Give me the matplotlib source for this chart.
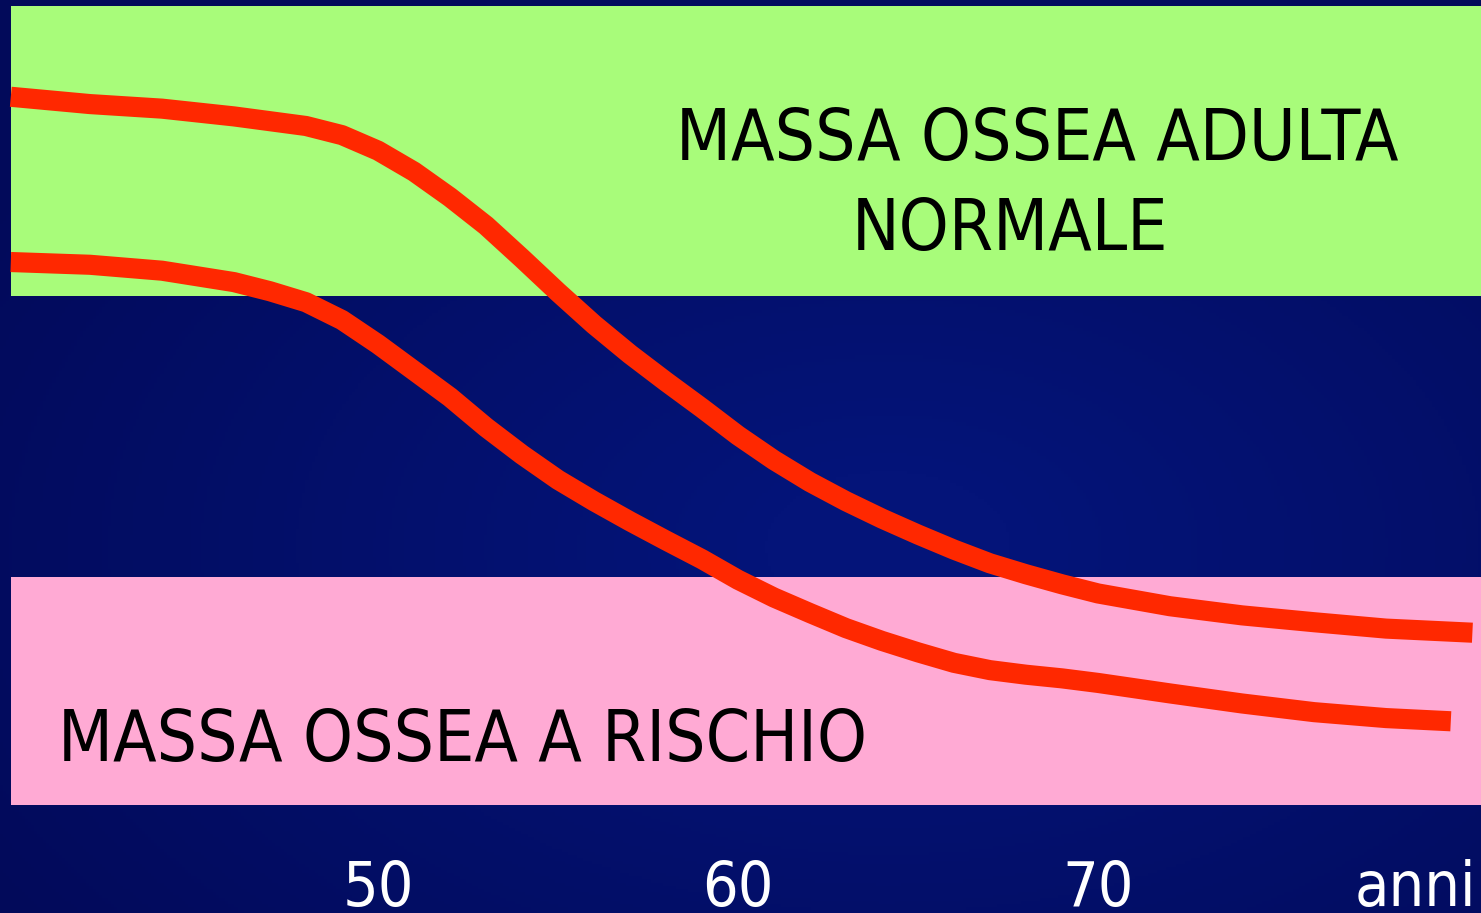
import numpy as np
import matplotlib
matplotlib.use("Agg")
import matplotlib.pyplot as plt
from matplotlib.colors import LinearSegmentedColormap

# Age (anni) and bone mass (arbitrary units) for the two trajectories
age_high = [39.8, 42, 44, 46, 48, 49, 50, 51, 52, 53, 54, 55, 56, 57, 58, 59, 60,
            61, 62, 63, 64, 65, 66, 67, 68, 69, 70, 72, 74, 76, 78, 80.4]
mass_high = [89.4, 88.6, 88.1, 87.25, 86.2, 85.2, 83.5, 81.2, 78.4, 75.3, 71.7, 68.0,
             64.45, 61.2, 58.2, 55.3, 52.3, 49.6, 47.2, 45.1, 43.2, 41.45, 39.8,
             38.3, 37.1, 36.0, 35.0, 33.6, 32.6, 31.85, 31.15, 30.7]

age_low = [39.8, 42, 44, 46, 47, 48, 49, 50, 51, 52, 53, 54, 55, 56, 57, 58, 59, 60,
           61, 62, 63, 64, 65, 66, 67, 68, 69, 70, 72, 74, 76, 78, 79.8]
mass_low = [71.3, 71.0, 70.35, 69.1, 68.1, 66.9, 64.95, 62.3, 59.4, 56.5, 53.2, 50.2,
            47.45, 45.1, 42.9, 40.8, 38.75, 36.5, 34.55, 32.85, 31.2, 29.8, 28.55,
            27.4, 26.6, 26.1, 25.7, 25.2, 24.05, 22.95, 22.0, 21.35, 21.0]

# Reference zones (bone mass ranges)
normal_zone = (67.6, 99.3)
risk_zone = (11.8, 36.8)
zone_start = 39.8

tick_ages = [50, 60, 70]
tick_labels = ["50", "60", "70"]

fig = plt.figure(figsize=(14.81, 9.13), dpi=100)
ax = fig.add_axes([0, 0, 1, 1])
x0, x1 = 39.5, 39.5 + 1481 / 36
ax.set_xlim(x0, x1)
ax.set_ylim(0, 100)
ax.axis("off")

# Navy background, slightly brighter toward the middle
yy, xx = np.mgrid[0:1:300j, 0:1:480j]
r = np.sqrt(((xx - 0.6) / 0.8) ** 2 + ((yy - 0.4) / 0.8) ** 2)
cmap = LinearSegmentedColormap.from_list("navy", ["#041479", "#020A5A"])
ax.imshow(r, extent=(x0, x1, 0, 100), cmap=cmap, vmin=0.1, vmax=0.9,
          aspect="auto", origin="lower", zorder=0)

ax.fill_between([zone_start, x1], normal_zone[0], normal_zone[1],
                color="#A8FC7A", lw=0, zorder=1)
ax.fill_between([zone_start, x1], risk_zone[0], risk_zone[1],
                color="#FFAAD4", lw=0, zorder=1)

for a, m in ((age_high, mass_high), (age_low, mass_low)):
    ax.plot(a, m, color="#FF2800", lw=14.5, solid_capstyle="butt",
            solid_joinstyle="round", zorder=3)

font = dict(family="DejaVu Sans", fontstretch="condensed")
ax.text(68.3, 82.47, "MASSA OSSEA ADULTA", fontsize=51, color="black",
        ha="center", va="baseline", zorder=4, **font)
ax.text(67.56, 72.6, "NORMALE", fontsize=51, color="black",
        ha="center", va="baseline", zorder=4, **font)
ax.text(41.1, 16.65, "MASSA OSSEA A RISCHIO", fontsize=51, color="black",
        ha="left", va="baseline", zorder=4, **font)

for t, lab in zip(tick_ages, tick_labels):
    ax.text(t, 0.8, lab, fontsize=45, color="white", ha="center",
            va="baseline", zorder=4, **font)
ax.text(80.5, 0.8, "anni", fontsize=45, color="white", ha="right",
        va="baseline", zorder=4, **font)

fig.savefig("out.png", dpi=100)
